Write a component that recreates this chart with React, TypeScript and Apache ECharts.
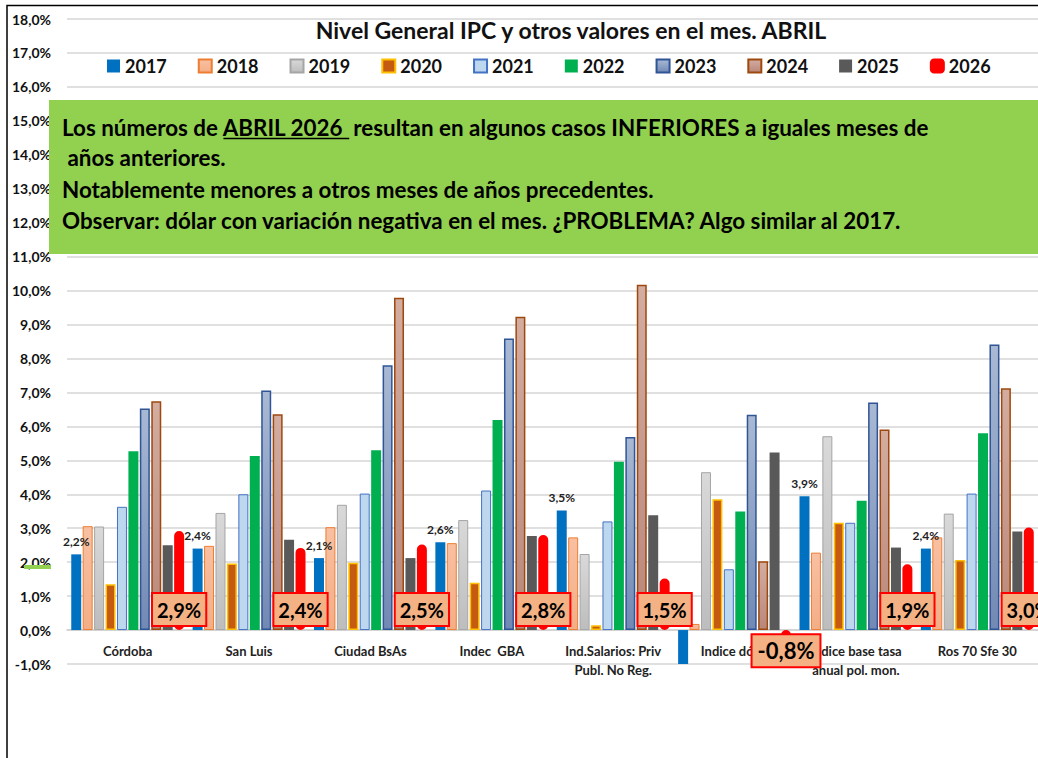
import React, { useEffect, useRef } from "react";
import * as echarts from "echarts";

const categories = [
  "Córdoba",
  "San Luis",
  "Ciudad BsAs",
  "Indec  GBA",
  "Ind.Salarios: Priv\nPubl. No Reg.",
  "Indice dólar",
  "Indice base tasa\nanual pol. mon.",
  "Ros 70 Sfe 30",
];
const years = ["2017", "2018", "2019", "2020", "2021", "2022", "2023", "2024", "2025", "2026"];

const v2017 = [2.23, 2.4, 2.12, 2.59, 3.52, -1.03, 3.94, 2.4];
const v2018 = [3.06, 2.48, 3.03, 2.56, 2.73, 0.18, 2.28, 2.73];
const v2019 = [3.05, 3.45, 3.69, 3.24, 2.24, 4.65, 5.71, 3.43];
const v2020 = [1.35, 1.96, 1.98, 1.39, 0.14, 3.85, 3.16, 2.06];
const v2021 = [3.63, 4.0, 4.02, 4.11, 3.2, 1.79, 3.16, 4.02];
const v2022 = [5.27, 5.13, 5.3, 6.19, 4.96, 3.49, 3.81, 5.8];
const v2023 = [6.53, 7.06, 7.8, 8.59, 5.69, 6.34, 6.7, 8.41];
const v2024 = [6.74, 6.36, 9.79, 9.23, 10.17, 2.03, 5.91, 7.12];
const v2025 = [2.5, 2.66, 2.12, 2.77, 3.38, 5.23, 2.43, 2.9];
const v2026 = [2.92, 2.42, 2.52, 2.8, 1.52, -0.8, 1.94, 3.02];

const yMin = -1;
const yMax = 18;
const yInterval = 1;

const titleText = "Nivel General IPC y otros valores en el mes. ABRIL";
const noteStart = "Los números de ";
const noteUnder = "ABRIL 2026 ";
const noteRest = " resultan en algunos casos INFERIORES a iguales meses de";
const noteLines = [
  " años anteriores.",
  "Notablemente menores a otros meses de años precedentes.",
  "Observar: dólar con variación negativa en el mes. ¿PROBLEMA? Algo similar al 2017.",
];

const FONT = "Lato";

function pct(v: number): string {
  return v.toFixed(1).replace(".", ",") + "%";
}

function grad(top: string, bottom: string) {
  return new echarts.graphic.LinearGradient(0, 0, 0, 1, [
    { offset: 0, color: top },
    { offset: 1, color: bottom },
  ]);
}

export default function App() {
  const ref = useRef<HTMLDivElement>(null);

  useEffect(() => {
    if (!ref.current) return;
    const chart = echarts.init(ref.current, null, { renderer: "svg" });

    const gridTop = 19;
    const gridBottom = 94;
    const plotH = 758 - gridTop - gridBottom;
    const zeroOffset = (plotH * (0 - yMin)) / (yMax - yMin);

    const noteFont = `bold 22.4px ${FONT}`;
    const cv = document.createElement("canvas").getContext("2d")!;
    cv.font = noteFont;
    const wStart = cv.measureText(noteStart).width;
    const wUnder = cv.measureText(noteUnder).width;
    const noteX = 62;

    const styles: any[] = [
      { color: "#0070C0" },
      { color: grad("#F8C0A2", "#F4AE86"), borderColor: "#ED7D31", borderWidth: 1 },
      { color: grad("#D9D9D9", "#BDBDBD"), borderColor: "#A5A5A5", borderWidth: 1 },
      { color: "#C55A11", borderColor: "#FFC000", borderWidth: 1.5 },
      { color: "#BDD7EE", borderColor: "#4472C4", borderWidth: 1 },
      { color: "#00B050" },
      { color: grad("#A9B9D4", "#7189B4"), borderColor: "#2F5597", borderWidth: 1.5 },
      { color: grad("#D3ADA0", "#B9877A"), borderColor: "#9E480E", borderWidth: 1.5 },
      { color: "#595959" },
      { color: "#FF0000", borderColor: "#FF0000", borderWidth: 4, borderRadius: 5 },
    ];
    const data = [v2017, v2018, v2019, v2020, v2021, v2022, v2023, v2024, v2025, v2026];

    const series: any[] = years.map((y, k) => {
      const s: any = {
        name: y,
        type: "bar",
        data: data[k],
        itemStyle: styles[k],
        barGap: "14.5%",
        barCategoryGap: "7%",
      };
      if (k === 0) {
        s.data = data[k].map((v) => ({ value: v, label: { show: v >= 0 } }));
        s.label = {
          show: true,
          position: "top",
          distance: 7,
          formatter: (p: any) => pct(p.value),
          fontFamily: FONT,
          fontWeight: "bold",
          fontSize: 12,
          color: "#222",
        };
      }
      if (k === 9) {
        s.data = data[k].map((v) =>
          v < 0
            ? { value: v, label: { position: "inside", offset: [0, 7], fontSize: 22, padding: [4, 5, 3, 5] } }
            : { value: v }
        );
        s.label = {
          show: true,
          position: "insideBottom",
          distance: 5,
          formatter: (p: any) => pct(p.value),
          fontFamily: FONT,
          fontWeight: "bold",
          fontSize: 20,
          lineHeight: 24,
          color: "#000",
          backgroundColor: "#F4B183",
          borderColor: "#FF0000",
          borderWidth: 2,
          padding: [4, 4, 3, 4],
        };
      }
      return s;
    });

    const option: any = {
      animation: false,
      grid: { left: 67, right: 0, top: gridTop, bottom: gridBottom, containLabel: false },
      legend: {
        left: 102,
        top: 52,
        itemWidth: 13,
        itemHeight: 13,
        itemGap: 31,
        textStyle: { fontFamily: FONT, fontWeight: "bold", fontSize: 18, color: "#111", lineHeight: 18 },
        data: years.map((y) => (y === "2026" ? { name: y, icon: "roundRect" } : { name: y, icon: "rect" })),
      },
      xAxis: {
        type: "category",
        data: categories,
        position: "bottom",
        offset: -zeroOffset,
        axisLine: { onZero: false, lineStyle: { color: "#D0D0D0", width: 1.5 } },
        axisTick: { show: false },
        axisLabel: {
          interval: 0,
          margin: 11,
          fontFamily: FONT,
          fontWeight: "bold",
          fontSize: 13,
          lineHeight: 19,
          color: "#222",
        },
      },
      yAxis: {
        type: "value",
        min: yMin,
        max: yMax,
        interval: yInterval,
        axisLine: { show: false },
        axisTick: { show: false },
        splitLine: { lineStyle: { color: "#D6D6D6", width: 1.5 } },
        axisLabel: {
          margin: 16,
          formatter: (v: number) => pct(v),
          fontFamily: FONT,
          fontWeight: "bold",
          fontSize: 14,
          color: "#111",
        },
      },
      series,
      graphic: [
        {
          type: "text",
          z: 40,
          x: 571,
          y: 30,
          style: {
            text: titleText,
            fontFamily: FONT,
            fontWeight: "bold",
            fontSize: 23,
            fill: "#111",
            align: "center",
            verticalAlign: "middle",
          },
        },
        {
          type: "rect",
          z: 50,
          shape: { x: 49, y: 100, width: 1000, height: 154 },
          style: { fill: "#92D050" },
        },
        {
          type: "rect",
          z: 50,
          shape: { x: 24, y: 565, width: 27, height: 4 },
          style: { fill: "#92D050" },
        },
        {
          type: "text",
          z: 51,
          x: noteX,
          y: 127,
          style: {
            text: noteStart + noteUnder + noteRest,
            font: noteFont,
            fill: "#000",
            verticalAlign: "middle",
          },
        },
        {
          type: "line",
          z: 51,
          shape: { x1: noteX + wStart, y1: 138.5, x2: noteX + wStart + wUnder, y2: 138.5 },
          style: { stroke: "#000", lineWidth: 1.5 },
        },
        ...noteLines.map((t, i) => ({
          type: "text",
          z: 51,
          x: noteX,
          y: [157, 189, 220][i],
          style: { text: t, font: noteFont, fill: "#000", verticalAlign: "middle" },
        })),
        {
          type: "rect",
          z: 60,
          shape: { x: 7, y: 5.5, width: 1100, height: 800 },
          style: { fill: "none", stroke: "#000", lineWidth: 1.5 },
        },
      ],
    };

    chart.setOption(option);
    return () => chart.dispose();
  }, []);

  return (
    <div
      ref={ref}
      style={{ position: "fixed", left: 0, top: 0, width: 1038, height: 758, background: "#fff" }}
    />
  );
}
